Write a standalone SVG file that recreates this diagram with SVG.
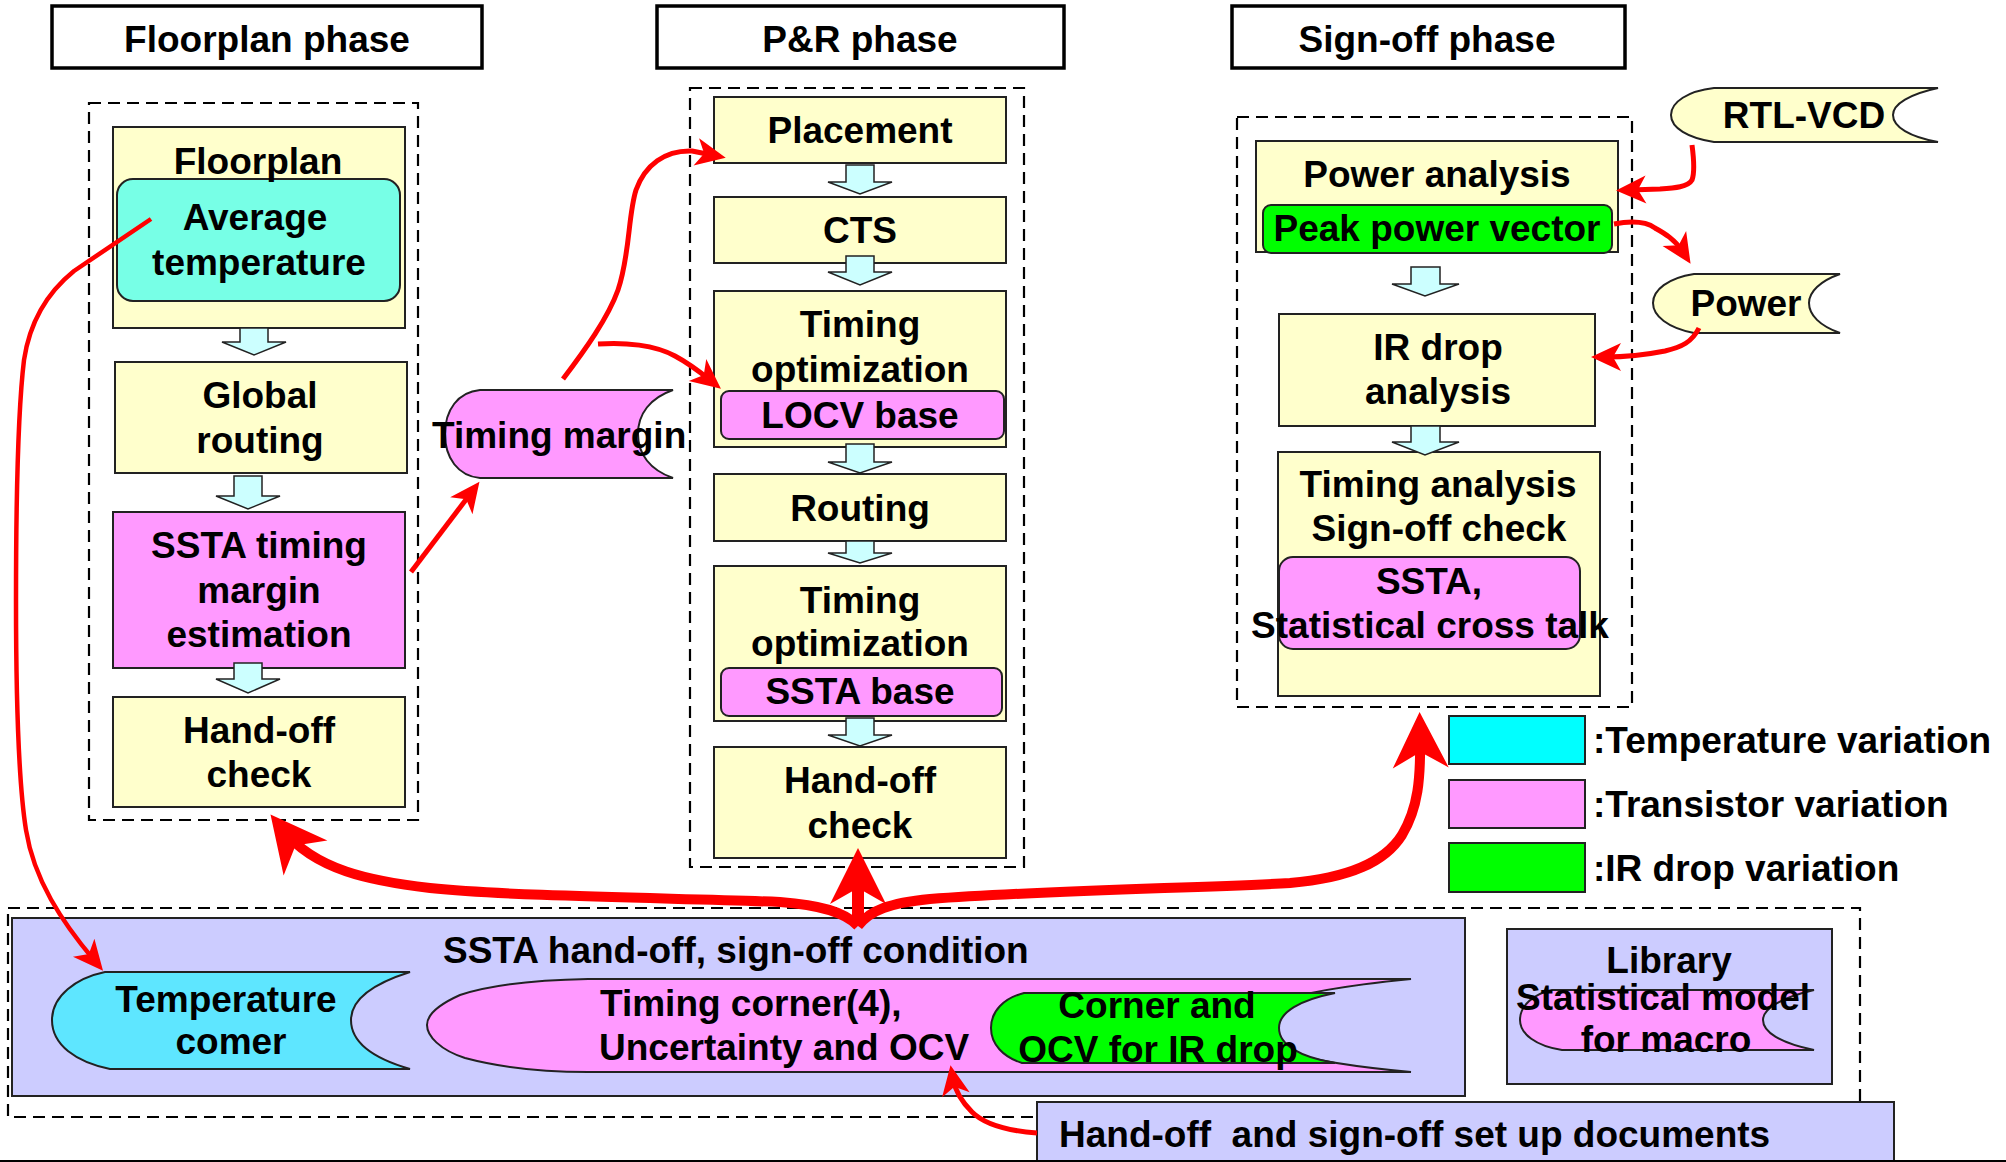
<svg xmlns="http://www.w3.org/2000/svg" width="2006" height="1162" viewBox="0 0 2006 1162">
  <style>
    .t{font-family:"Liberation Sans",Arial,Helvetica,sans-serif;font-weight:bold;font-size:37px;fill:#000;text-anchor:middle}
    .s{text-anchor:start}
    .hdr{fill:#fff;stroke:#000;stroke-width:3.5}
    .dash{fill:none;stroke:#000;stroke-width:2.2;stroke-dasharray:12 7}
    .y{fill:#ffffcc;stroke:#222;stroke-width:2}
    .p{fill:#ff99ff;stroke:#222;stroke-width:2}
    .g{fill:#00ff00;stroke:#222;stroke-width:2}
    .aq{fill:#77ffe6;stroke:#222;stroke-width:2}
    .sky{fill:#5ee6ff;stroke:#222;stroke-width:2}
    .cy{fill:#00ffff;stroke:#222;stroke-width:2}
    .lav{fill:#ccccff;stroke:#222;stroke-width:2}
    .blk{fill:#ccffff;stroke:#222;stroke-width:1.5;stroke-linejoin:miter}
    .red{fill:none;stroke:#f00;stroke-width:5;stroke-linejoin:round}
    .thick{fill:none;stroke:#f00;stroke-width:10;stroke-linejoin:round}
  </style>
  <defs>
    <marker id="ah" markerUnits="userSpaceOnUse" orient="auto" overflow="visible" refX="0" refY="0" markerWidth="1" markerHeight="1">
      <path d="M14,0 L-16,-14 L-8,0 L-16,14 Z" fill="#f00"/>
    </marker>
    <marker id="ahb" markerUnits="userSpaceOnUse" orient="auto" overflow="visible" refX="0" refY="0" markerWidth="1" markerHeight="1">
      <path d="M20,0 L-36,-28 L-20,0 L-36,28 Z" fill="#f00"/>
    </marker>
  </defs>

  <rect width="2006" height="1162" fill="#fff"/>

  <!-- phase headers -->
  <g id="hdr-floorplan">
    <rect class="hdr" x="52" y="6" width="430" height="62"/>
    <text class="t" x="267" y="52">Floorplan phase</text>
  </g>
  <g id="hdr-pr">
    <rect class="hdr" x="657" y="6" width="407" height="62"/>
    <text class="t" x="860" y="52">P&amp;R phase</text>
  </g>
  <g id="hdr-signoff">
    <rect class="hdr" x="1232" y="6" width="393" height="62"/>
    <text class="t" x="1427" y="52">Sign-off phase</text>
  </g>

  <!-- phase containers -->
  <g id="containers">
    <rect class="dash" x="89" y="103" width="329" height="717"/>
    <rect class="dash" x="690" y="88" width="334" height="779"/>
    <rect class="dash" x="1237" y="117" width="395" height="590"/>
    <rect class="dash" x="8" y="908" width="1852" height="209"/>
  </g>

  <!-- floorplan phase -->
  <g id="n-floorplan">
    <rect class="y" x="113" y="127" width="292" height="201"/>
    <rect class="aq" x="117" y="179" width="283" height="122" rx="16"/>
    <text class="t" x="258" y="174">Floorplan</text>
    <text class="t" x="255" y="230">Average</text>
    <text class="t" x="259" y="275">temperature</text>
  </g>
  <g id="n-global-routing">
    <rect class="y" x="115" y="362" width="292" height="111"/>
    <text class="t" x="260" y="408">Global</text>
    <text class="t" x="260" y="453">routing</text>
  </g>
  <g id="n-ssta-margin">
    <rect class="p" x="113" y="512" width="292" height="156"/>
    <text class="t" x="259" y="558">SSTA timing</text>
    <text class="t" x="259" y="603">margin</text>
    <text class="t" x="259" y="647">estimation</text>
  </g>
  <g id="n-handoff-fp">
    <rect class="y" x="113" y="697" width="292" height="110"/>
    <text class="t" x="259" y="743">Hand-off</text>
    <text class="t" x="259" y="787">check</text>
  </g>

  <!-- P&R phase -->
  <g id="n-placement">
    <rect class="y" x="714" y="97" width="292" height="66"/>
    <text class="t" x="860" y="143">Placement</text>
  </g>
  <g id="n-cts">
    <rect class="y" x="714" y="197" width="292" height="66"/>
    <text class="t" x="860" y="243">CTS</text>
  </g>
  <g id="n-timing-opt-locv">
    <rect class="y" x="714" y="291" width="292" height="156"/>
    <rect class="p" x="721" y="391" width="283" height="48" rx="8"/>
    <text class="t" x="860" y="337">Timing</text>
    <text class="t" x="860" y="382">optimization</text>
    <text class="t" x="860" y="428">LOCV base</text>
  </g>
  <g id="n-routing">
    <rect class="y" x="714" y="474" width="292" height="67"/>
    <text class="t" x="860" y="521">Routing</text>
  </g>
  <g id="n-timing-opt-ssta">
    <rect class="y" x="714" y="566" width="292" height="155"/>
    <rect class="p" x="721" y="668" width="281" height="48" rx="8"/>
    <text class="t" x="860" y="613">Timing</text>
    <text class="t" x="860" y="656">optimization</text>
    <text class="t" x="860" y="704">SSTA base</text>
  </g>
  <g id="n-handoff-pr">
    <rect class="y" x="714" y="747" width="292" height="111"/>
    <text class="t" x="860" y="793">Hand-off</text>
    <text class="t" x="860" y="838">check</text>
  </g>

  <!-- sign-off phase -->
  <g id="n-power-analysis">
    <rect class="y" x="1256" y="141" width="362" height="111"/>
    <rect class="g" x="1263" y="205" width="349" height="48" rx="8"/>
    <text class="t" x="1437" y="187">Power analysis</text>
    <text class="t" x="1437" y="241">Peak power vector</text>
  </g>
  <g id="n-ir-drop">
    <rect class="y" x="1279" y="314" width="316" height="112"/>
    <text class="t" x="1438" y="360">IR drop</text>
    <text class="t" x="1438" y="404">analysis</text>
  </g>
  <g id="n-timing-analysis">
    <rect class="y" x="1278" y="452" width="322" height="244"/>
    <rect class="p" x="1279" y="557" width="301" height="92" rx="14"/>
    <text class="t" x="1438" y="497">Timing analysis</text>
    <text class="t" x="1439" y="541">Sign-off check</text>
    <text class="t" x="1429" y="594">SSTA,</text>
    <text class="t" x="1430" y="638">Statistical cross talk</text>
  </g>

  <!-- flow arrows inside phases -->
  <g id="flow-arrows">
    <polygon class="blk" points="240,328 268,328 268,342 286,342 254,355 222,342 240,342"/>
    <polygon class="blk" points="234,476 262,476 262,496 280,496 248,509 216,496 234,496"/>
    <polygon class="blk" points="234,663 262,663 262,679 280,679 248,693 216,679 234,679"/>
    <polygon class="blk" points="846,165 874,165 874,182 892,182 860,194 828,182 846,182"/>
    <polygon class="blk" points="846,256 874,256 874,272 892,272 860,285 828,272 846,272"/>
    <polygon class="blk" points="846,444 874,444 874,462 892,462 860,473 828,462 846,462"/>
    <polygon class="blk" points="846,541 874,541 874,553 892,553 860,563 828,553 846,553"/>
    <polygon class="blk" points="846,718 874,718 874,735 892,735 860,746 828,735 846,735"/>
    <polygon class="blk" points="1411,267 1440,267 1440,284 1459,284 1425,296 1392,284 1411,284"/>
    <polygon class="blk" points="1411,426 1440,426 1440,442 1459,442 1425,455 1392,442 1411,442"/>
  </g>

  <!-- data items -->
  <g id="n-timing-margin">
    <path class="p" d="M480,390 H673 C650,398 638,414 638,434 C638,454 650,470 673,478 H480 C458,476 445,458 445,434 C445,410 458,392 480,390 Z"/>
    <text class="t s" x="432" y="448">Timing margin</text>
  </g>
  <g id="n-rtl-vcd">
    <path class="y" d="M1714,88 H1938 C1910,94 1893,104 1893,115 C1893,127 1910,137 1938,142 H1714 C1688,138 1671,128 1671,115 C1671,102 1688,91 1714,88 Z"/>
    <text class="t" x="1804" y="128">RTL-VCD</text>
  </g>
  <g id="n-power">
    <path class="y" d="M1694,274 H1840 C1820,281 1809,292 1809,303 C1809,315 1820,326 1840,333 H1694 C1668,328 1653,316 1653,303 C1653,290 1668,278 1694,274 Z"/>
    <text class="t" x="1746" y="316">Power</text>
  </g>

  <!-- legend -->
  <g id="legend">
    <rect class="cy" x="1449" y="716" width="136" height="48"/>
    <text class="t s" x="1593" y="753">:Temperature variation</text>
    <rect class="p" x="1449" y="780" width="136" height="48"/>
    <text class="t s" x="1593" y="817">:Transistor variation</text>
    <rect class="g" x="1449" y="843" width="136" height="49"/>
    <text class="t s" x="1593" y="881">:IR drop variation</text>
  </g>

  <!-- hand-off / sign-off conditions -->
  <g id="n-conditions">
    <rect class="lav" x="12" y="918" width="1453" height="178"/>
    <text class="t s" x="443" y="963">SSTA hand-off, sign-off condition</text>
  </g>
  <g id="n-temp-corner">
    <path class="sky" d="M105,972 H410 C372,984 351,1000 351,1020 C351,1042 372,1058 410,1069 H110 C76,1062 52,1045 52,1020 C52,996 76,978 105,972 Z"/>
    <text class="t" x="226" y="1012">Temperature</text>
    <text class="t" x="231" y="1054">comer</text>
  </g>
  <g id="n-timing-corner">
    <path class="p" d="M588,979 H1411 C1300,990 1245,1005 1245,1025 C1245,1045 1300,1062 1411,1072 H588 C540,1072 495,1066 465,1058 C440,1050 427,1036 427,1025 C427,1014 440,1004 460,995 C490,985 535,980 588,979 Z"/>
    <text class="t s" x="600" y="1016">Timing corner(4),</text>
    <text class="t s" x="599" y="1060">Uncertainty and OCV</text>
  </g>
  <g id="n-ir-corner">
    <path class="g" d="M1024,993 H1335 C1300,1000 1279,1012 1279,1028 C1279,1045 1300,1057 1335,1063 H1022 C1003,1057 991,1044 991,1028 C991,1011 1004,998 1024,993 Z"/>
    <text class="t" x="1157" y="1018">Corner and</text>
    <text class="t" x="1158" y="1062">OCV for IR drop</text>
  </g>
  <g id="n-library">
    <rect class="lav" x="1507" y="929" width="325" height="155"/>
    <path class="p" d="M1552,990 H1814 C1780,998 1763,1009 1763,1020 C1763,1032 1780,1043 1814,1050 H1562 C1536,1046 1520,1034 1520,1020 C1520,1006 1533,994 1552,990 Z"/>
    <text class="t" x="1669" y="973">Library</text>
    <text class="t" x="1663" y="1010">Statistical model</text>
    <text class="t" x="1666" y="1052">for macro</text>
  </g>
  <g id="n-documents">
    <rect class="lav" x="1037" y="1102" width="857" height="70"/>
    <text class="t s" x="1059" y="1147" xml:space="preserve">Hand-off  and sign-off set up documents</text>
  </g>
  <line x1="0" y1="1161" x2="2006" y2="1161" stroke="#000" stroke-width="2"/>

  <!-- connectors -->
  <g id="connectors">
    <path class="red" style="stroke-width:4.5" marker-end="url(#ah)" d="M151,219 L74,271 C48,292 30,320 24,360 C18,410 16,500 16,600 C16,700 18,780 26,830 C34,880 62,922 94,960"/>
    <path class="red" marker-end="url(#ah)" d="M411,572 L471,493"/>
    <path class="red" marker-end="url(#ah)" d="M563,379 C585,350 608,318 618,290 C630,255 628,215 636,190 C645,165 665,150 692,151 L712,155"/>
    <path class="red" marker-end="url(#ah)" d="M598,344 C625,342 655,345 675,356 C690,364 700,372 710,380"/>
    <path class="red" marker-end="url(#ah)" d="M1692,145 C1694,160 1695,172 1692,180 C1688,187 1675,188 1660,189 L1630,190"/>
    <path class="red" marker-end="url(#ah)" d="M1614,224 C1630,221 1645,221 1655,228 C1662,232 1674,238 1683,252"/>
    <path class="red" marker-end="url(#ah)" d="M1699,328 C1692,342 1682,347 1665,351 C1645,355 1625,357 1605,357"/>
    <path class="red" marker-end="url(#ah)" d="M1037,1133 C1010,1131 985,1125 972,1112 C960,1100 955,1090 953,1079"/>
    <path class="thick" marker-end="url(#ahb)" d="M858,926 C845,912 820,905 780,902 C680,898 520,897 430,888 C370,881 315,870 283,830"/>
    <path class="thick" style="stroke-width:12" marker-end="url(#ahb)" d="M858,926 L858,868"/>
    <path class="thick" marker-end="url(#ahb)" d="M858,926 C870,910 890,903 930,899 C1050,890 1200,888 1290,883 C1350,878 1385,862 1402,835 C1418,808 1421,780 1420,732"/>
  </g>
</svg>
